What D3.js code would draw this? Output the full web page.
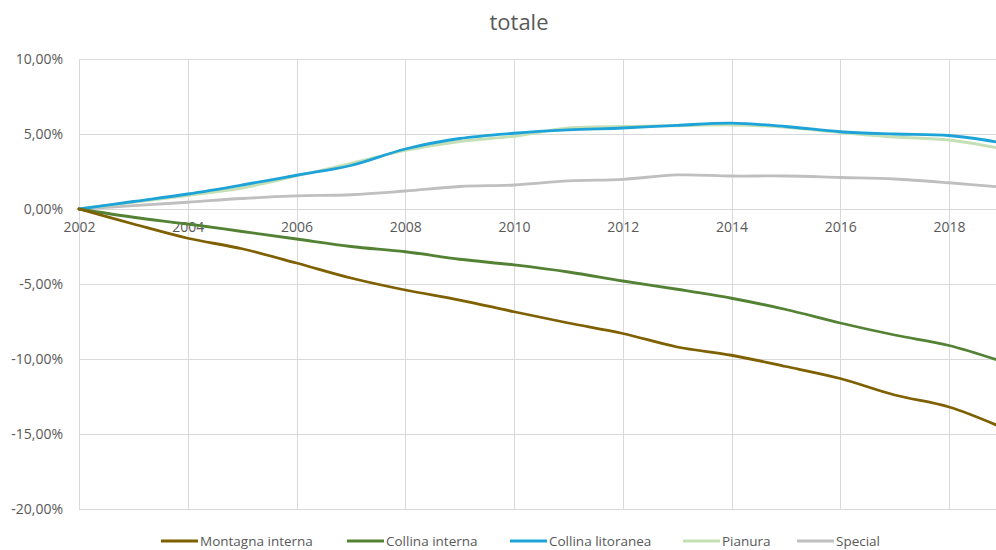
<!DOCTYPE html>
<html>
<head>
<meta charset="utf-8">
<script src="https://cdn.jsdelivr.net/npm/d3@7"></script>
<style>
  html, body { margin: 0; padding: 0; background: #fff; }
  svg { display: block; }
  text { font-family: "Open Sans", "Noto Sans", sans-serif; fill: #595959; }
</style>
</head>
<body>
<svg id="chart" width="996" height="550"></svg>
<script>
// Years along the category axis
const years = [2002, 2003, 2004, 2005, 2006, 2007, 2008, 2009, 2010,
               2011, 2012, 2013, 2014, 2015, 2016, 2017, 2018, 2019];

// Cumulative change since 2002, in percent
const montagnaInterna = [0, -1.0, -1.95, -2.65, -3.6, -4.6, -5.4, -6.07, -6.85,
                         -7.6, -8.3, -9.2, -9.75, -10.5, -11.3, -12.4, -13.2, -14.6];
const collinaInterna  = [0, -0.55, -1.0, -1.5, -2.0, -2.5, -2.85, -3.35, -3.73,
                         -4.2, -4.8, -5.35, -5.95, -6.7, -7.6, -8.4, -9.1, -10.2];
const collinaLitoranea = [0, 0.5, 1.0, 1.6, 2.25, 2.9, 4.0, 4.7, 5.05,
                          5.27, 5.4, 5.58, 5.72, 5.5, 5.15, 5.0, 4.9, 4.4];
const pianura         = [0, 0.45, 0.9, 1.4, 2.2, 3.05, 3.9, 4.5, 4.85,
                         5.4, 5.5, 5.55, 5.6, 5.45, 5.1, 4.8, 4.6, 4.0];
const special         = [0, 0.22, 0.45, 0.7, 0.87, 0.95, 1.2, 1.5, 1.6,
                         1.87, 1.98, 2.27, 2.2, 2.2, 2.1, 2.0, 1.75, 1.45];

const seriesNames  = ["Montagna interna", "Collina interna", "Collina litoranea", "Pianura", "Special"];
const seriesValues = [montagnaInterna, collinaInterna, collinaLitoranea, pianura, special];
const seriesColors = ["#7f6000", "#548235", "#1ea3d8", "#c5e0b4", "#bfbfbf"];

const yTicks = [10, 5, 0, -5, -10, -15, -20];
const xTickLabels = [2002, 2004, 2006, 2008, 2010, 2012, 2014, 2016, 2018];

const svg = d3.select("#chart");

const x = d3.scaleLinear().domain([2002, 2018]).range([79, 949]);
const y = d3.scaleLinear().domain([-20, 10]).range([509, 59]);

const fmt = v => d3.format(".2f")(v).replace(".", ",").replace("−", "-") + "%";

// Horizontal gridlines
svg.append("g")
  .selectAll("line")
  .data(yTicks)
  .join("line")
  .attr("x1", x(2002)).attr("x2", 996)
  .attr("y1", d => y(d) + 0.5).attr("y2", d => y(d) + 0.5)
  .attr("stroke", "#d9d9d9").attr("stroke-width", 1);

// Vertical gridlines at every labelled year
svg.append("g")
  .selectAll("line")
  .data(xTickLabels)
  .join("line")
  .attr("x1", d => Math.round(x(d)) + 0.5).attr("x2", d => Math.round(x(d)) + 0.5)
  .attr("y1", y(10)).attr("y2", y(-20))
  .attr("stroke", "#d9d9d9").attr("stroke-width", 1);

// Y axis labels
const yAxis = d3.axisLeft(y).tickValues(yTicks).tickFormat(fmt).tickSize(0).tickPadding(16);
const gy = svg.append("g").attr("transform", `translate(${x(2002)},0)`).call(yAxis);
gy.select(".domain").remove();
gy.selectAll("text")
  .attr("font-size", 14)
  .style("font-family", '"Open Sans", sans-serif')
  .attr("fill", "#595959");

// X axis labels, hanging just under the zero line
const xAxis = d3.axisBottom(x).tickValues(xTickLabels).tickFormat(d3.format("d")).tickSize(0).tickPadding(13);
const gx = svg.append("g").attr("transform", `translate(0,${y(0)})`).call(xAxis);
gx.select(".domain").remove();
gx.selectAll("text")
  .attr("font-size", 14)
  .style("font-family", '"Open Sans", sans-serif')
  .attr("fill", "#595959");

// Series lines
const line = d3.line()
  .x((d, i) => x(years[i]))
  .y(d => y(d))
  .curve(d3.curveCatmullRom.alpha(0.5));

svg.append("g")
  .selectAll("path")
  .data(seriesValues.map((v, i) => ({ values: v, color: seriesColors[i] })).reverse())
  .join("path")
  .attr("d", d => line(d.values))
  .attr("fill", "none")
  .attr("stroke", d => d.color)
  .attr("stroke-width", 2.8)
  .attr("stroke-linecap", "round")
  .attr("stroke-linejoin", "round");

// Title
svg.append("text")
  .attr("x", 519).attr("y", 30)
  .attr("text-anchor", "middle")
  .attr("font-size", 22)
  .text("totale");

// Legend
const legendX = [161, 347, 510, 683, 797];
const legend = svg.append("g");
seriesNames.forEach((name, i) => {
  const g = legend.append("g").attr("transform", `translate(${legendX[i]},541)`);
  g.append("line").attr("x1", 0).attr("x2", 37).attr("y1", 0).attr("y2", 0)
    .attr("stroke", seriesColors[i]).attr("stroke-width", 2.8);
  g.append("text").attr("x", 39).attr("y", 4.5).attr("font-size", 13.5).text(name);
});
</script>
</body>
</html>
